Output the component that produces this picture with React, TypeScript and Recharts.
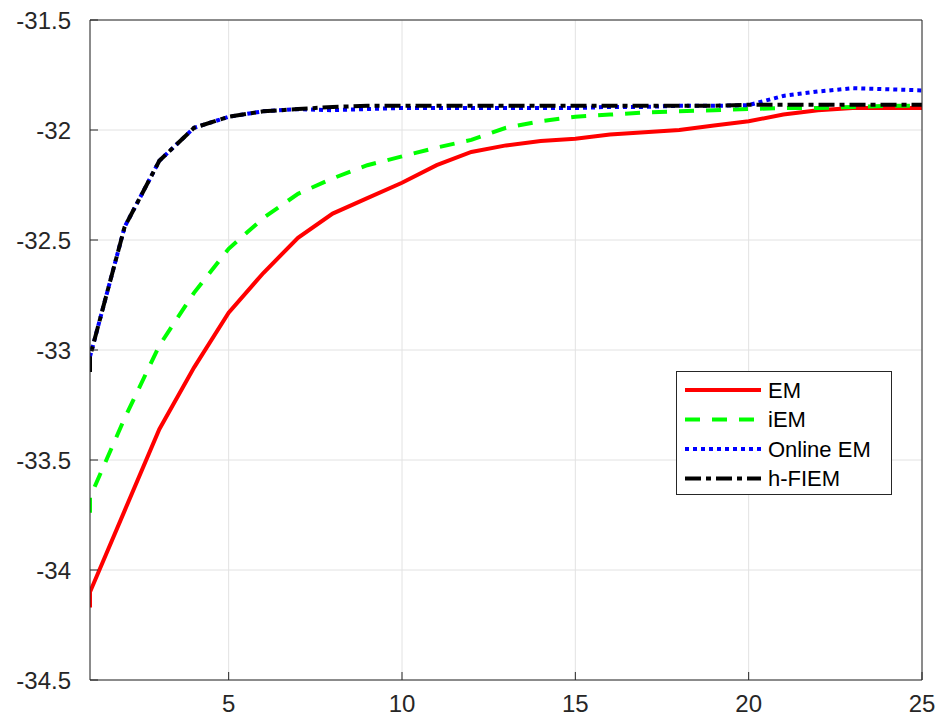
import { LineChart, Line, XAxis, YAxis, CartesianGrid, Legend } from "recharts";

// first iteration appears twice: the curves start with a short vertical stub at x = 1
const iterations = [1, 1, 2, 3, 4, 5, 6, 7, 8, 9, 10, 11, 12, 13, 14, 15, 16, 17, 18, 19, 20, 21, 22, 23, 24, 25];

const emValues = [
  -34.17, -34.1, -33.73, -33.36, -33.08, -32.83, -32.65, -32.49, -32.38, -32.31, -32.24, -32.16, -32.1,
  -32.07, -32.05, -32.04, -32.02, -32.01, -32.0, -31.98, -31.96, -31.93, -31.91, -31.9, -31.9, -31.9,
];
const iemValues = [
  -33.74, -33.67, -33.31, -32.98, -32.74, -32.54, -32.4, -32.29, -32.22, -32.16, -32.12, -32.08, -32.045,
  -31.99, -31.96, -31.94, -31.93, -31.92, -31.915, -31.91, -31.905, -31.9, -31.9, -31.895, -31.89, -31.89,
];
const onlineValues = [
  -33.03, -33.03, -32.44, -32.14, -31.99, -31.94, -31.915, -31.905, -31.91, -31.905, -31.9, -31.9, -31.9,
  -31.9, -31.9, -31.9, -31.895, -31.895, -31.89, -31.89, -31.887, -31.845, -31.825, -31.81, -31.815, -31.82,
];
const hfiemValues = [
  -33.1, -33.03, -32.44, -32.14, -31.99, -31.94, -31.915, -31.905, -31.895, -31.89, -31.89, -31.89, -31.89,
  -31.89, -31.89, -31.89, -31.89, -31.89, -31.89, -31.89, -31.885, -31.885, -31.885, -31.885, -31.885, -31.885,
];

const xTicks = [5, 10, 15, 20, 25];
const yTicks = [-34.5, -34, -33.5, -33, -32.5, -32, -31.5];

const data = iterations.map((it, i) => ({
  it,
  em: emValues[i],
  iem: iemValues[i],
  online: onlineValues[i],
  hfiem: hfiemValues[i],
}));

const series = [
  { key: "em", name: "EM", color: "#ff0000", dash: undefined as string | undefined },
  { key: "iem", name: "iEM", color: "#00ff00", dash: "15 12" },
  { key: "online", name: "Online EM", color: "#0000ff", dash: "4 4" },
  { key: "hfiem", name: "h-FIEM", color: "#000000", dash: "16 5 5 5" },
];

const FONT = "'Liberation Sans', Arial, Helvetica, sans-serif";
const INK = "#262626";
const GRID = "#e2e2e2";

function LegendBox() {
  return (
    <svg width={214} height={122} style={{ display: "block" }}>
      {series.map((s, i) => {
        const cy = 18 + i * 29.5;
        return (
          <g key={s.key}>
            <line x1={8} x2={84} y1={cy} y2={cy} stroke={s.color} strokeWidth={4} strokeDasharray={s.dash} />
            <text x={91} y={cy} dy="0.36em" fontSize={22} fontFamily={FONT} fill="#000">
              {s.name}
            </text>
          </g>
        );
      })}
    </svg>
  );
}

export default function App() {
  const tickStyle = { fontSize: 24, fill: INK, fontFamily: FONT };
  return (
    <div style={{ position: "absolute", left: 0, top: 0, background: "#fff" }}>
      <LineChart width={940} height={722} data={data} margin={{ top: 19, right: 17, left: 0, bottom: 0 }}>
        <CartesianGrid stroke={GRID} strokeWidth={1} />
        <XAxis
          dataKey="it"
          type="number"
          domain={[1, 25]}
          ticks={xTicks}
          allowDataOverflow
          height={42}
          tick={tickStyle}
          tickSize={-8}
          tickMargin={23}
          axisLine={{ stroke: INK }}
          tickLine={{ stroke: INK }}
        />
        <XAxis
          xAxisId="top"
          orientation="top"
          dataKey="it"
          type="number"
          domain={[1, 25]}
          ticks={xTicks}
          height={1}
          tick={false}
          tickSize={-8}
          axisLine={{ stroke: INK }}
          tickLine={{ stroke: INK }}
        />
        <YAxis
          type="number"
          domain={[-34.5, -31.5]}
          ticks={yTicks}
          allowDataOverflow
          width={90}
          tick={tickStyle}
          tickSize={-8}
          tickMargin={27}
          axisLine={{ stroke: INK }}
          tickLine={{ stroke: INK }}
        />
        <YAxis
          yAxisId="right"
          orientation="right"
          type="number"
          domain={[-34.5, -31.5]}
          ticks={yTicks}
          width={1}
          tick={false}
          tickSize={-8}
          axisLine={{ stroke: INK }}
          tickLine={{ stroke: INK }}
        />
        {series.map((s) => (
          <Line
            key={s.key}
            type="linear"
            dataKey={s.key}
            name={s.name}
            stroke={s.color}
            strokeWidth={4}
            strokeDasharray={s.dash}
            dot={false}
            activeDot={false}
            isAnimationActive={false}
          />
        ))}
        <Legend
          layout="vertical"
          align="center"
          verticalAlign="middle"
          content={() => <LegendBox />}
          wrapperStyle={{
            left: 676,
            top: 371,
            width: 216,
            height: 124,
            border: `1px solid ${INK}`,
            background: "#fff",
            boxSizing: "border-box",
          }}
        />
      </LineChart>
    </div>
  );
}
